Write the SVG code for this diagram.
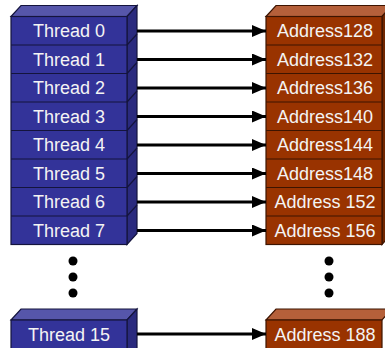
<svg xmlns="http://www.w3.org/2000/svg" width="385" height="348" viewBox="0 0 385 348">
<defs>
<style>
.bf{fill:#333399;stroke:#14143d;stroke-width:1.2}
.bt{fill:#5656aa;stroke:#14143d;stroke-width:1.2}
.bs{fill:#2a2a7e;stroke:#14143d;stroke-width:1.2}
.rf{fill:#993300;stroke:#3d1400;stroke-width:1.2}
.rt{fill:#b5603a;stroke:#3d1400;stroke-width:1.2}
.rs{fill:#702600;stroke:#3d1400;stroke-width:1.2}
.bd{stroke:#14143d;stroke-width:1.2}
.rd{stroke:#3d1400;stroke-width:1.2}
.t{font-family:"Liberation Sans",Arial,sans-serif;font-size:18px;fill:#f4f4f4;text-anchor:middle}
.a{stroke:#000;stroke-width:3;fill:none}
</style>
<marker id="ah" markerWidth="14" markerHeight="12" refX="14" refY="6" orient="auto" markerUnits="userSpaceOnUse">
<path d="M0,0 L14,6 L0,12 Z" fill="#000"/>
</marker>
</defs>
<g id="threads">
<polygon class="bt" points="11,16.5 21,5.5 137,5.5 127,16.5"/>
<polygon class="bs" points="127,16.5 137,5.5 137,233.5 127,244.5"/>
<rect class="bf" x="11" y="16.5" width="116" height="228"/>
<g class="bd">
<line x1="11" y1="45" x2="127" y2="45"/><line x1="127" y1="45" x2="137" y2="34"/>
<line x1="11" y1="73.5" x2="127" y2="73.5"/><line x1="127" y1="73.5" x2="137" y2="62.5"/>
<line x1="11" y1="102" x2="127" y2="102"/><line x1="127" y1="102" x2="137" y2="91"/>
<line x1="11" y1="130.5" x2="127" y2="130.5"/><line x1="127" y1="130.5" x2="137" y2="119.5"/>
<line x1="11" y1="159" x2="127" y2="159"/><line x1="127" y1="159" x2="137" y2="148"/>
<line x1="11" y1="187.5" x2="127" y2="187.5"/><line x1="127" y1="187.5" x2="137" y2="176.5"/>
<line x1="11" y1="216" x2="127" y2="216"/><line x1="127" y1="216" x2="137" y2="205"/>
</g>
</g>
<g id="thread0"><text class="t" x="69" y="37">Thread 0</text></g>
<g id="thread1"><text class="t" x="69" y="65.5">Thread 1</text></g>
<g id="thread2"><text class="t" x="69" y="94">Thread 2</text></g>
<g id="thread3"><text class="t" x="69" y="122.5">Thread 3</text></g>
<g id="thread4"><text class="t" x="69" y="151">Thread 4</text></g>
<g id="thread5"><text class="t" x="69" y="179.5">Thread 5</text></g>
<g id="thread6"><text class="t" x="69" y="208">Thread 6</text></g>
<g id="thread7"><text class="t" x="69" y="236.5">Thread 7</text></g>
<g id="thread15">
<polygon class="bt" points="11,320 21,309 137,309 127,320"/>
<polygon class="bs" points="127,320 137,309 137,349 127,360"/>
<rect class="bf" x="11" y="320" width="116" height="40"/>
<text class="t" x="69" y="340.5">Thread 15</text>
</g>
<g id="addresses">
<polygon class="rt" points="266,16.5 276,5.5 392,5.5 382,16.5"/>
<polygon class="rs" points="382,16.5 392,5.5 392,233.5 382,244.5"/>
<rect class="rf" x="266" y="16.5" width="116" height="228"/>
<g class="rd">
<line x1="266" y1="45" x2="382" y2="45"/>
<line x1="266" y1="73.5" x2="382" y2="73.5"/>
<line x1="266" y1="102" x2="382" y2="102"/>
<line x1="266" y1="130.5" x2="382" y2="130.5"/>
<line x1="266" y1="159" x2="382" y2="159"/>
<line x1="266" y1="187.5" x2="382" y2="187.5"/>
<line x1="266" y1="216" x2="382" y2="216"/>
</g>
</g>
<g id="addr128"><text class="t" x="325" y="37">Address128</text></g>
<g id="addr132"><text class="t" x="325" y="65.5">Address132</text></g>
<g id="addr136"><text class="t" x="325" y="94">Address136</text></g>
<g id="addr140"><text class="t" x="325" y="122.5">Address140</text></g>
<g id="addr144"><text class="t" x="325" y="151">Address144</text></g>
<g id="addr148"><text class="t" x="325" y="179.5">Address148</text></g>
<g id="addr152"><text class="t" x="325" y="208">Address 152</text></g>
<g id="addr156"><text class="t" x="325" y="236.5">Address 156</text></g>
<g id="addr188">
<polygon class="rt" points="266,320 276,309 392,309 382,320"/>
<rect class="rf" x="266" y="320" width="116" height="40"/>
<text class="t" x="325" y="340.5">Address 188</text>
</g>
<g id="dots">
<circle cx="73" cy="261" r="4.5"/><circle cx="73" cy="277" r="4.5"/><circle cx="73" cy="293" r="4.5"/>
<circle cx="329" cy="261" r="4.5"/><circle cx="329" cy="277" r="4.5"/><circle cx="329" cy="293" r="4.5"/>
</g>
<g id="connectors">
<line class="a" x1="137" y1="31" x2="266" y2="31" marker-end="url(#ah)"/>
<line class="a" x1="137" y1="59.5" x2="266" y2="59.5" marker-end="url(#ah)"/>
<line class="a" x1="137" y1="88" x2="266" y2="88" marker-end="url(#ah)"/>
<line class="a" x1="137" y1="116.5" x2="266" y2="116.5" marker-end="url(#ah)"/>
<line class="a" x1="137" y1="145" x2="266" y2="145" marker-end="url(#ah)"/>
<line class="a" x1="137" y1="173.5" x2="266" y2="173.5" marker-end="url(#ah)"/>
<line class="a" x1="137" y1="202" x2="266" y2="202" marker-end="url(#ah)"/>
<line class="a" x1="137" y1="230.5" x2="266" y2="230.5" marker-end="url(#ah)"/>
<line class="a" x1="137" y1="334" x2="266" y2="334" marker-end="url(#ah)"/>
</g>
</svg>
